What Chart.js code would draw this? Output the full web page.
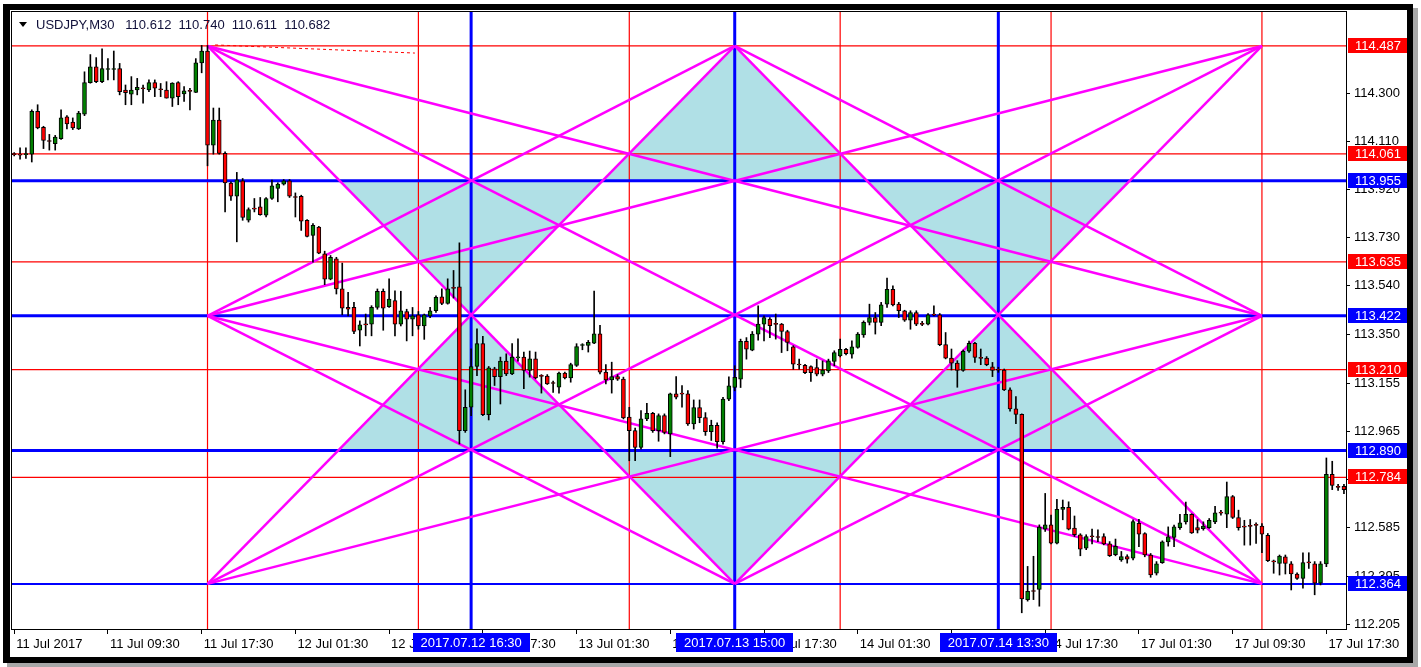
<!DOCTYPE html>
<html>
<head>
<meta charset="utf-8">
<script src="https://cdn.jsdelivr.net/npm/chart.js@4.4.1/dist/chart.umd.min.js"></script>
<style>
html,body{margin:0;padding:0;background:#fff;}
#wrap{position:relative;width:1421px;height:667px;}
canvas{display:block;}
</style>
</head>
<body>
<div id="wrap"><canvas id="c" width="1421" height="667"></canvas></div>
<script>
// ---------- DATA ----------
const header = 'USDJPY,M30   110.612  110.740  110.611  110.682';

const xTickIndex = [0,16,32,48,64,80,96,112,128,144,160,176,192,208,224];
const xTickLabels = ['11 Jul 2017','11 Jul 09:30','11 Jul 17:30','12 Jul 01:30','12 Jul 09:30','12 Jul 17:30','13 Jul 01:30','13 Jul 09:30','13 Jul 17:30','14 Jul 01:30','14 Jul 09:30','14 Jul 17:30','17 Jul 01:30','17 Jul 09:30','17 Jul 17:30'];
const yTicks = [114.300,114.110,113.920,113.730,113.540,113.350,113.155,112.965,112.775,112.585,112.395,112.205];

const open = [
114.059,114.059,114.058,114.060,114.229,114.166,114.112,114.101,114.121,114.207,
114.187,114.160,114.218,114.342,114.405,114.346,114.394,114.394,114.398,114.313,
114.297,114.313,114.320,114.313,114.342,114.316,114.313,114.281,114.342,114.298,
114.310,114.304,114.420,114.467,114.095,114.194,114.063,113.946,113.894,113.955,
113.799,113.845,113.852,113.819,113.885,113.925,113.942,113.955,113.891,113.894,
113.799,113.739,113.772,113.667,113.567,113.647,113.528,113.455,113.455,113.365,
113.389,113.389,113.455,113.519,113.458,113.482,113.389,113.439,113.409,113.426,
113.382,113.422,113.442,113.497,113.471,113.532,113.536,112.969,113.061,113.222,
113.312,113.032,113.213,113.182,113.243,113.193,113.256,113.259,113.206,113.252,
113.184,113.184,113.157,113.140,113.196,113.177,113.226,113.305,113.305,113.314,
113.351,113.200,113.169,113.182,113.172,113.022,112.969,112.903,113.015,113.037,
112.969,113.028,112.956,113.114,113.114,113.114,112.995,113.060,113.020,112.965,
112.990,112.925,113.093,113.139,113.172,113.321,113.286,113.350,113.389,113.409,
113.389,113.389,113.360,113.300,113.229,113.227,113.222,113.218,113.192,113.205,
113.242,113.264,113.290,113.271,113.297,113.347,113.396,113.415,113.396,113.468,
113.527,113.468,113.442,113.405,113.435,113.389,113.389,113.426,113.426,113.308,
113.255,113.235,113.206,113.282,113.313,113.255,113.255,113.221,113.208,113.208,
113.130,113.055,113.033,112.302,112.335,112.342,112.580,112.597,112.525,112.658,
112.666,112.584,112.558,112.505,112.551,112.548,112.551,112.522,112.479,112.459,
112.472,112.466,112.603,112.563,112.478,112.406,112.448,112.530,112.547,112.586,
112.609,112.639,112.586,112.582,112.586,112.609,112.644,112.639,112.709,112.626,
112.589,112.592,112.596,112.592,112.556,112.452,112.445,112.471,112.443,112.403,
112.386,112.448,112.443,112.367,112.443,112.796,112.746,112.749];
const high = [
114.066,114.085,114.085,114.235,114.255,114.170,114.138,114.134,114.235,114.212,
114.203,114.229,114.385,114.453,114.441,114.476,114.437,114.467,114.418,114.333,
114.366,114.359,114.333,114.353,114.353,114.339,114.346,114.342,114.346,114.327,
114.320,114.437,114.489,114.489,114.242,114.242,114.069,113.951,113.988,113.964,
113.848,113.885,113.889,113.889,113.958,113.947,113.960,113.960,113.907,113.898,
113.802,113.786,113.775,113.677,113.660,113.653,113.630,113.515,113.475,113.402,
113.429,113.462,113.528,113.528,113.568,113.521,113.519,113.448,113.455,113.439,
113.429,113.455,113.501,113.528,113.568,113.601,113.710,113.130,113.292,113.371,
113.341,113.222,113.219,113.259,113.272,113.312,113.331,113.279,113.283,113.279,
113.190,113.190,113.164,113.200,113.200,113.235,113.312,113.312,113.325,113.520,
113.384,113.230,113.239,113.190,113.180,113.061,112.979,113.048,113.077,113.041,
113.035,113.035,113.117,113.182,113.147,113.127,113.090,113.090,113.040,113.010,
113.000,113.100,113.181,113.225,113.330,113.336,113.360,113.461,113.422,113.415,
113.429,113.392,113.365,113.304,113.251,113.231,113.225,113.251,113.244,113.251,
113.284,113.330,113.294,113.323,113.356,113.402,113.468,113.435,113.475,113.571,
113.540,113.475,113.444,113.442,113.442,113.400,113.431,113.461,113.431,113.356,
113.291,113.245,113.287,113.322,113.317,113.291,113.261,113.238,113.219,113.212,
113.138,113.103,113.035,112.433,112.473,112.597,112.721,112.636,112.698,112.695,
112.688,112.632,112.562,112.558,112.580,112.577,112.562,112.531,112.541,112.492,
112.479,112.617,112.619,112.566,112.484,112.452,112.534,112.589,112.596,112.639,
112.687,112.641,112.618,112.609,112.622,112.670,112.654,112.766,112.713,112.655,
112.615,112.618,112.605,112.602,112.563,112.458,112.478,112.478,112.452,112.408,
112.487,112.487,112.452,112.452,112.861,112.848,112.757,112.757];
const low = [
114.053,114.040,114.043,114.029,114.160,114.082,114.076,114.076,114.118,114.160,
114.157,114.157,114.212,114.340,114.342,114.342,114.353,114.353,114.294,114.255,
114.255,114.294,114.261,114.307,114.287,114.287,114.281,114.248,114.255,114.268,
114.235,114.303,114.381,114.014,114.060,114.060,113.832,113.877,113.714,113.799,
113.792,113.832,113.819,113.812,113.881,113.872,113.938,113.889,113.812,113.759,
113.733,113.634,113.667,113.545,113.564,113.508,113.426,113.422,113.352,113.303,
113.343,113.343,113.448,113.365,113.455,113.343,113.382,113.323,113.343,113.369,
113.329,113.415,113.435,113.466,113.468,113.492,112.916,112.962,113.028,113.186,
113.028,113.011,113.147,113.074,113.186,113.190,113.243,113.134,113.180,113.173,
113.117,113.151,113.120,113.117,113.173,113.160,113.222,113.288,113.279,113.312,
113.193,113.153,113.117,113.167,113.015,112.850,112.850,112.896,113.008,112.962,
112.927,112.956,112.866,113.094,113.061,112.989,112.975,113.000,112.950,112.930,
112.900,112.915,113.087,113.126,113.139,113.251,113.284,113.326,113.323,113.336,
113.330,113.277,113.284,113.211,113.211,113.194,113.163,113.185,113.185,113.198,
113.225,113.260,113.268,113.255,113.294,113.337,113.386,113.350,113.383,113.455,
113.461,113.415,113.400,113.369,113.383,113.383,113.386,113.422,113.304,113.252,
113.208,113.140,113.203,113.278,113.238,113.229,113.225,113.182,113.199,113.127,
113.046,112.996,112.250,112.296,112.302,112.276,112.571,112.522,112.522,112.617,
112.577,112.551,112.475,112.499,112.522,112.531,112.518,112.472,112.475,112.453,
112.446,112.459,112.511,112.471,112.390,112.399,112.445,112.513,112.511,112.579,
112.600,112.563,112.565,112.576,112.583,112.602,112.635,112.586,112.622,112.576,
112.517,112.517,112.524,112.487,112.452,112.406,112.399,112.403,112.340,112.382,
112.347,112.425,112.321,112.360,112.432,112.736,112.733,112.720];
const close = [
114.058,114.056,114.058,114.229,114.164,114.114,114.110,114.127,114.203,114.179,
114.164,114.222,114.342,114.405,114.346,114.398,114.398,114.396,114.307,114.303,
114.313,114.324,114.318,114.342,114.320,114.314,114.281,114.340,114.287,114.310,
114.308,114.420,114.467,114.095,114.194,114.063,113.946,113.894,113.959,113.810,
113.841,113.843,113.821,113.885,113.935,113.942,113.955,113.894,113.889,113.796,
113.735,113.779,113.669,113.567,113.653,113.528,113.452,113.448,113.360,113.386,
113.386,113.455,113.519,113.452,113.488,113.389,113.442,113.409,113.422,113.382,
113.426,113.442,113.495,113.471,113.528,113.530,112.969,113.061,113.222,113.312,
113.032,113.217,113.182,113.243,113.193,113.259,113.257,113.206,113.252,113.177,
113.183,113.153,113.155,113.196,113.177,113.230,113.301,113.305,113.317,113.351,
113.200,113.169,113.182,113.172,113.019,112.969,112.903,113.015,113.037,112.969,
113.028,112.962,113.114,113.101,113.113,112.995,113.060,113.020,112.965,112.990,
112.925,113.093,113.146,113.179,113.321,113.290,113.350,113.389,113.415,113.383,
113.388,113.360,113.317,113.231,113.228,113.198,113.198,113.192,113.208,113.244,
113.277,113.290,113.273,113.300,113.350,113.396,113.415,113.396,113.465,113.527,
113.465,113.442,113.405,113.435,113.389,113.388,113.426,113.425,113.308,113.255,
113.235,113.206,113.282,113.313,113.258,113.254,113.229,113.206,113.207,113.130,
113.055,113.033,112.305,112.335,112.334,112.588,112.597,112.525,112.658,112.666,
112.580,112.558,112.501,112.551,112.550,112.547,112.522,112.475,112.512,112.472,
112.462,112.610,112.560,112.478,112.399,112.443,112.530,112.550,112.589,112.605,
112.639,112.565,112.576,112.592,112.615,112.644,112.643,112.709,112.626,112.586,
112.588,112.591,112.595,112.560,112.456,112.451,112.474,112.445,112.403,112.386,
112.448,112.447,112.367,112.443,112.796,112.753,112.745,112.736];

// horizontal levels (price) and vertical lines (bar index)
const redLevels  = [114.487,114.061,113.635,113.210,112.784];
const blueLevels = [113.955,113.422,112.890,112.364];
const blueLevelWidths = [3,3,3,2];
const redBars  = [33,69,105,141,177,213];
const blueBars = [78,123,168];
const blueBarLabels = ['2017.07.12 16:30','2017.07.13 15:00','2017.07.14 13:30'];

// Gann fan segments: [bar1, price1, bar2, price2]
const gannLines = [
  [33,114.487,213,113.422],[33,114.487,213,112.364],
  [33,113.422,213,114.487],[33,113.422,213,112.364],
  [33,112.364,213,114.487],[33,112.364,213,113.422],
  [33,114.487,123,112.364],[33,113.422,123,114.487],
  [33,113.422,123,112.364],[33,112.364,123,114.487],
  [123,114.487,213,113.422],[123,114.487,213,112.364],
  [123,112.364,213,113.422],[123,112.364,213,114.487]
];
// shaded triangles: vertices [bar, price]
const triangles = [
  [[55.5,113.955],[100.5,113.955],[78,113.422]],
  [[100.5,113.955],[145.5,113.955],[123,114.487]],
  [[145.5,113.955],[190.5,113.955],[168,113.422]],
  [[78,113.422],[55.5,112.890],[100.5,112.890]],
  [[100.5,112.890],[145.5,112.890],[123,112.364]],
  [[168,113.422],[145.5,112.890],[190.5,112.890]]
];
// red dashed trend line
const trendLine = [[34.3,114.491],[68.4,114.459]];

// ---------- CHART ----------
const X_MIN = -0.376, X_MAX = 227.35, Y_MIN = 112.186, Y_MAX = 114.621;
const FONT = "'Liberation Sans', Arial, sans-serif";
Chart.defaults.font.family = FONT;
Chart.defaults.font.size = 13;
Chart.defaults.color = '#000';

function seg(x1,y1,x2,y2,color,width,order,dash){
  return {type:'line', data:[{x:x1,y:y1},{x:x2,y:y2}], borderColor:color, borderWidth:width,
    pointRadius:0, pointHoverRadius:0, fill:false, tension:0, order:order, borderDash:dash||[]};
}

const datasets = [];
const idx = open.map((_, i) => i);
datasets.push({type:'bar', data: idx.map(i => ({x:i, y:[open[i], close[i]]})),
  backgroundColor: idx.map(i => close[i] >= open[i] ? '#008000' : '#ff0000'),
  borderColor:'#000', borderWidth:1, borderSkipped:false, barThickness:4, grouped:false, minBarLength:1, order:0});
datasets.push({type:'bar', data: idx.map(i => ({x:i, y:[low[i], high[i]]})),
  backgroundColor:'#000', borderWidth:0, barThickness:1, grouped:false, order:1});

gannLines.forEach(l => datasets.push(seg(l[0],l[1],l[2],l[3],'#ff00ff',2.5,20)));
datasets.push(seg(trendLine[0][0],trendLine[0][1],trendLine[1][0],trendLine[1][1],'#ff0000',1,22,[3,3]));
blueLevels.forEach((p,k) => datasets.push(seg(X_MIN,p,X_MAX,p,'#0000ff',blueLevelWidths[k],30)));
blueBars.forEach(b => datasets.push(seg(b,Y_MIN,b,Y_MAX,'#0000ff',3,30)));
redLevels.forEach(p => datasets.push(seg(X_MIN,p,X_MAX,p,'#ff0000',1.2,35)));
redBars.forEach(b => datasets.push(seg(b,Y_MIN,b,Y_MAX,'#ff0000',1.2,35)));
triangles.forEach(t => datasets.push({type:'line', data: t.concat([t[0]]).map(p => ({x:p[0], y:p[1]})),
  fill:'shape', backgroundColor:'#b0e0e6', borderColor:'rgba(0,0,0,0)', borderWidth:0, pointRadius:0, tension:0, order:50}));

const decor = {
  id:'decor',
  beforeDraw(chart){
    const c = chart.ctx;
    c.save();
    c.fillStyle = '#ffffff'; c.fillRect(0,0,1421,667);
    c.fillStyle = '#a8a8a8'; c.fillRect(7,8,1411,659);
    c.fillStyle = '#000000'; c.fillRect(3,4,1410,659);
    c.fillStyle = '#ffffff'; c.fillRect(10,10,1397,647);
    c.restore();
  },
  afterDraw(chart){
    const c = chart.ctx, a = chart.chartArea;
    const ys = chart.scales.y, xs = chart.scales.x;
    c.save();
    // plot border
    c.strokeStyle = '#000'; c.lineWidth = 1;
    c.strokeRect(a.left - 0.5, a.top - 0.5, a.right - a.left + 1, a.bottom - a.top + 1);
    // header
    c.fillStyle = '#000';
    c.beginPath(); c.moveTo(19,22); c.lineTo(27,22); c.lineTo(23,27); c.closePath(); c.fill();
    c.font = '13px ' + FONT; c.textBaseline = 'middle'; c.textAlign = 'left';
    c.fillStyle = '#10103a';
    c.fillText(header, 36, 25);
    // price boxes
    const box = (p, col) => {
      const y = Math.round(ys.getPixelForValue(p));
      c.fillStyle = col; c.fillRect(1348, y - 8, 59, 15);
      c.fillStyle = '#fff'; c.fillText(p.toFixed(3), 1355, y);
    };
    redLevels.forEach(p => box(p, '#ff0000'));
    blueLevels.forEach(p => box(p, '#0000ff'));
    // time boxes
    c.textAlign = 'center';
    blueBars.forEach((b,k) => {
      const x = xs.getPixelForValue(b);
      const w = c.measureText(blueBarLabels[k]).width + 16;
      c.fillStyle = '#0000ff'; c.fillRect(Math.round(x - w/2), 633, Math.round(w), 19);
      c.fillStyle = '#fff'; c.fillText(blueBarLabels[k], x, 643);
    });
    c.restore();
  }
};

new Chart(document.getElementById('c'), {
  type:'line',
  data:{datasets},
  options:{
    responsive:false, animation:false, devicePixelRatio:1, events:[],
    layout:{padding:{left:12, top:12, right:0, bottom:0}, autoPadding:false},
    plugins:{legend:{display:false}, tooltip:{enabled:false}},
    scales:{
      x:{type:'linear', min:X_MIN, max:X_MAX, offset:false,
        afterFit(s){ s.height = 38; },
        afterBuildTicks(s){ s.ticks = xTickIndex.map(v => ({value:v})); },
        grid:{display:true, drawOnChartArea:false, drawTicks:true, tickLength:5, color:'#000', offset:false},
        border:{display:false},
        ticks:{autoSkip:false, maxRotation:0, align:'start', labelOffset:2, padding:3,
          callback(v, i){ return xTickLabels[i]; }, font:{size:13, family:FONT}, color:'#000'}
      },
      y:{type:'linear', position:'right', min:Y_MIN, max:Y_MAX,
        afterFit(s){ s.width = 75; },
        afterBuildTicks(s){ s.ticks = yTicks.map(v => ({value:v})); },
        grid:{display:true, drawOnChartArea:false, drawTicks:true, tickLength:4, color:'#000'},
        border:{display:false},
        ticks:{padding:4, callback(v){ return Number(v).toFixed(3); }, font:{size:13, family:FONT}, color:'#000'}
      }
    }
  },
  plugins:[decor]
});
</script>
</body>
</html>
